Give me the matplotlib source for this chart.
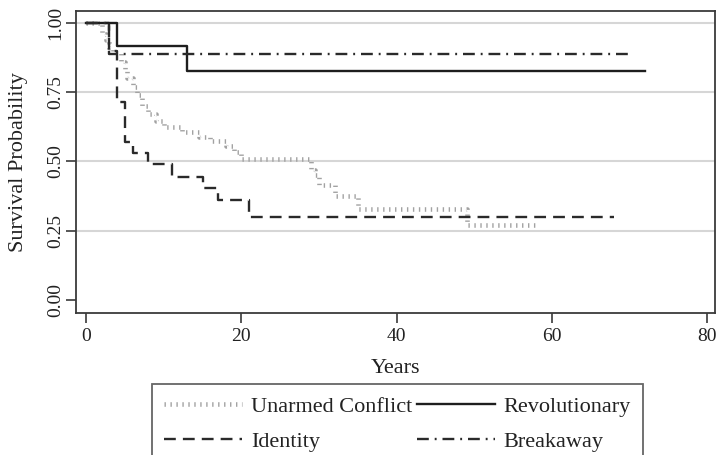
import matplotlib
matplotlib.use("Agg")
import matplotlib.pyplot as plt

# ---- data (Kaplan-Meier step estimates) ----
unarmed_t = [0, 2.0, 2.5, 3.0, 3.5, 4.5, 5.0, 5.3, 6.0, 6.5, 7.2, 8.0, 9.0, 10.0,
             12.3, 14.5, 16.0, 18.0, 19.0, 20.0, 29.0, 29.5, 30.0, 32.0, 35.0, 49.0, 58.0]
unarmed_s = [1.0, 0.96, 0.94, 0.91, 0.89, 0.86, 0.83, 0.80, 0.77, 0.74, 0.70, 0.67, 0.645, 0.625,
             0.605, 0.59, 0.575, 0.555, 0.535, 0.51, 0.47, 0.45, 0.415, 0.375, 0.33, 0.27, 0.27]

identity_t = [0, 3, 4, 5, 6, 8, 11, 15, 17, 21, 68]
identity_s = [1.0, 0.90, 0.715, 0.57, 0.53, 0.49, 0.445, 0.405, 0.36, 0.30, 0.30]

revolutionary_t = [0, 4, 13, 72]
revolutionary_s = [1.0, 0.917, 0.825, 0.825]

breakaway_t = [0, 3, 70]
breakaway_s = [1.0, 0.889, 0.889]

x_ticks = [0, 20, 40, 60, 80]
y_ticks = [0.00, 0.25, 0.50, 0.75, 1.00]
y_ticklabels = ["0.00", "0.25", "0.50", "0.75", "1.00"]
labels = ["Unarmed Conflict", "Identity", "Revolutionary", "Breakaway"]

# ---- style ----
plt.rcParams["font.family"] = ["Liberation Serif", "DejaVu Serif"]
W, H = 716, 455
fig = plt.figure(figsize=(W / 100, H / 100), dpi=100)
ax = fig.add_axes([76 / W, 1 - 313 / H, (715 - 76) / W, (313 - 11) / H])

spine_c = "#3a3a3a"
for sp in ax.spines.values():
    sp.set_color(spine_c)
    sp.set_linewidth(1.3)

ax.set_xlim(-1.3, 81.0)
ax.set_ylim(-0.047, 1.043)

ax.set_yticks(y_ticks)
ax.set_yticklabels(y_ticklabels, rotation=90, va="center")
ax.set_xticks(x_ticks)
ax.tick_params(axis="both", direction="out", length=7, width=1.2, color=spine_c,
               labelsize=14, labelcolor="#222222")
ax.tick_params(axis="y", pad=1.5)
ax.tick_params(axis="x", pad=4)

ax.yaxis.grid(True, color="#d6d6d6", linewidth=1.5)
ax.set_axisbelow(True)
ax.get_ygridlines()[0].set_visible(False)

l_unarmed, = ax.plot(unarmed_t, unarmed_s, drawstyle="steps-post", color="#a2a2a2",
                     linewidth=3.3, dashes=(0.3, 1.0), dash_capstyle="butt")
l_identity, = ax.plot(identity_t, identity_s, drawstyle="steps-post", color="#2a2a2a",
                      linewidth=1.7, dashes=(5.0, 3.0))
l_revol, = ax.plot(revolutionary_t, revolutionary_s, drawstyle="steps-post", color="#1e1e1e",
                   linewidth=1.7)
l_break, = ax.plot(breakaway_t, breakaway_s, drawstyle="steps-post", color="#2a2a2a",
                   linewidth=1.7, dashes=(5.0, 2.5, 0.8, 2.5))

ax.set_xlabel("Years", fontsize=16, color="#222222", labelpad=10)
ax.set_ylabel("Survival Probability", fontsize=16, color="#222222", labelpad=14)

leg = fig.legend([l_unarmed, l_identity, l_revol, l_break], labels,
                 ncol=2, loc="upper center", bbox_to_anchor=(397.5 / W, 1 - 384 / H),
                 fontsize=16, frameon=True, fancybox=False, edgecolor="#404040",
                 handlelength=3.5, handletextpad=0.42, columnspacing=0.2,
                 labelspacing=0.65, borderpad=0.55, borderaxespad=0)
leg.get_frame().set_linewidth(1.3)
for t in leg.get_texts():
    t.set_color("#222222")

fig.savefig("out.png", dpi=100)
